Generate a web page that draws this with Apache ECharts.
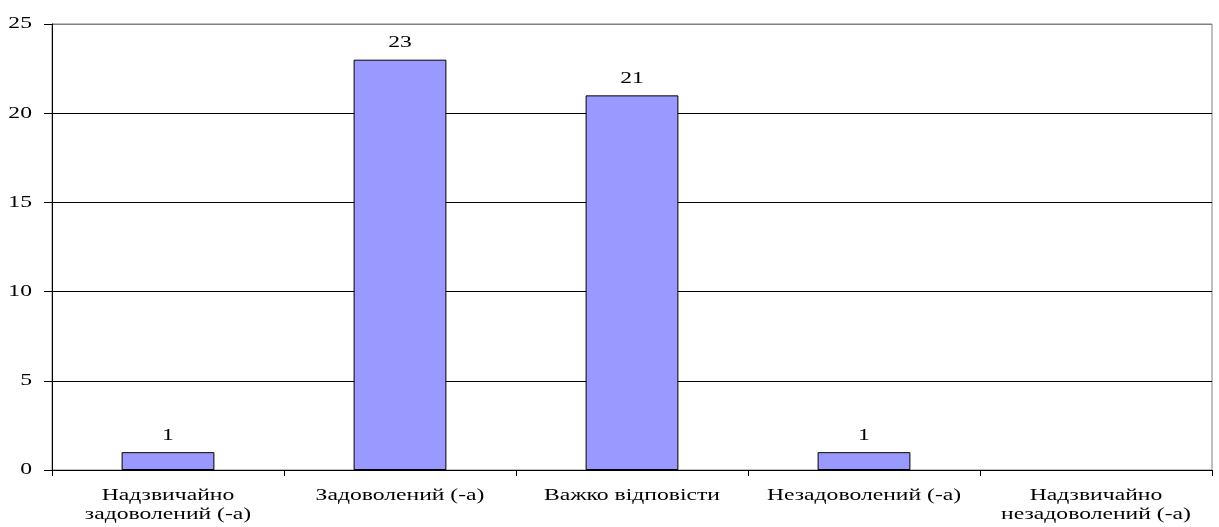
<!DOCTYPE html>
<html><head><meta charset="utf-8">
<script src="https://cdn.jsdelivr.net/npm/echarts@6/dist/echarts.min.js"></script>
<style>html,body{margin:0;padding:0;background:#fff}#c{width:1219px;height:527px}</style>
</head><body><div id="c"></div>
<script>
var categories = ['Надзвичайно\nзадоволений (-а)', 'Задоволений (-а)', 'Важко відповісти', 'Незадоволений (-а)', 'Надзвичайно\nнезадоволений (-а)'];
var values = [1, 23, 21, 1, 0];
var yTicks = [0, 5, 10, 15, 20, 25];
var fontFamily = '"Liberation Serif", "Times New Roman", serif';
var fontSize = 17;
var stretch = 1.39;
var chart = echarts.init(document.getElementById('c'));
chart.setOption({
  animation: false,
  grid: {left: 52, right: 7, top: 24, bottom: 57, show: true, borderColor: '#808080', borderWidth: 1, containLabel: false},
  xAxis: {
    type: 'category', data: categories,
    axisLine: {lineStyle: {color: '#000', width: 1}},
    axisTick: {show: true, alignWithLabel: false, length: 6, lineStyle: {color: '#000'}},
    axisLabel: {show: false},
    splitLine: {show: false}
  },
  yAxis: {
    type: 'value', min: 0, max: 25, interval: 5,
    axisLine: {show: true, lineStyle: {color: '#000', width: 1}},
    axisTick: {show: true, length: 8, lineStyle: {color: '#000'}},
    axisLabel: {show: false},
    splitLine: {show: true, lineStyle: {color: yTicks.map(function(t){return t === 25 ? '#808080' : '#000';}), width: 1}}
  },
  series: [{
    type: 'bar', data: values.map(function(v){return v === 0 ? null : v;}), barWidth: '40%',
    itemStyle: {color: '#9999FF', borderColor: '#000', borderWidth: 1},
    label: {show: false}
  }]
});
function txt(text, x, y, align) {
  return {type: 'text', x: x, y: y, scaleX: stretch, silent: true,
    style: {text: text, font: fontSize + 'px ' + fontFamily, fill: '#000',
      align: align, verticalAlign: 'middle', textAlign: align, textVerticalAlign: 'middle'}};
}
var els = [];
var axisY = chart.convertToPixel({yAxisIndex: 0}, 0);
categories.forEach(function(c, i) {
  var cx = chart.convertToPixel({xAxisIndex: 0}, i);
  c.split('\n').forEach(function(line, j) {
    els.push(txt(line, cx, axisY + 26 + j * 19, 'center'));
  });
  if (values[i] > 0) {
    var top = chart.convertToPixel({yAxisIndex: 0}, values[i]);
    els.push(txt(String(values[i]), cx, top - 17, 'center'));
  }
});
yTicks.forEach(function(t) {
  var py = chart.convertToPixel({yAxisIndex: 0}, t);
  els.push(txt(String(t), 32, py, 'right'));
});
chart.setOption({graphic: els});
</script></body></html>
